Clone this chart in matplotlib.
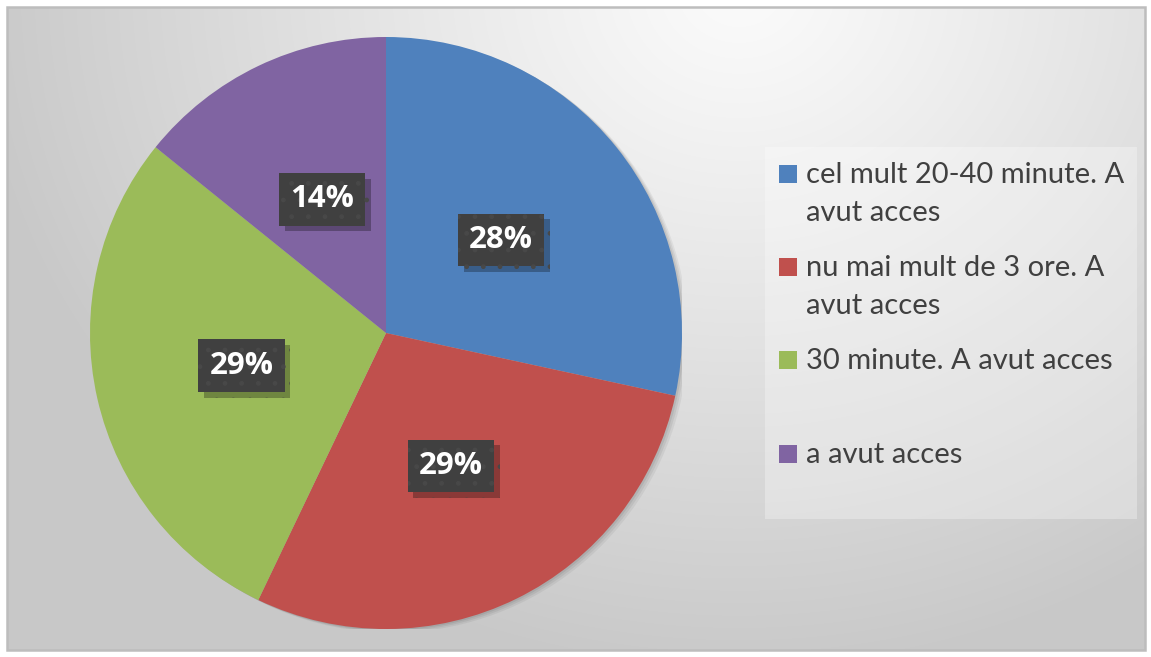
import numpy as np
import matplotlib
matplotlib.use("Agg")
import matplotlib.pyplot as plt
from matplotlib.patches import Rectangle, Circle
import matplotlib.patheffects as pe

categories = ["cel mult 20-40 minute. A\navut acces",
              "nu mai mult de 3 ore. A\navut acces",
              "30 minute. A avut acces",
              "a avut acces"]
values = [28.4, 28.7, 28.7, 14.2]
colors = ["#4f81bd", "#c0504d", "#9bbb59", "#8064a2"]

W, H = 1151, 657
fig = plt.figure(figsize=(W / 100, H / 100), dpi=100)
fig.patch.set_facecolor("white")

# background gradient
bg = fig.add_axes([0, 0, 1, 1])
bg.set_xlim(0, W)
bg.set_ylim(H, 0)
bg.axis("off")
yy, xx = np.mgrid[0:H, 0:W]
d = np.sqrt(((xx - 740) / 1.0) ** 2 + ((yy + 20) / 0.9) ** 2)
g = 0.985 - 0.20 * np.clip(d / 780, 0, 1) ** 1.1
img = np.dstack([g, g, g])
bg.imshow(img, extent=(7, 1145, 650, 7), aspect="auto", zorder=0)
bg.add_patch(Rectangle((7, 7), 1138, 643, fill=False, ec="#bdbdbd", lw=1.8, zorder=2))

# legend box
bg.add_patch(Rectangle((765, 147), 372, 372, fc="white", alpha=0.3, ec="none", zorder=1))

# pie
cx, cy, r = 386, 333, 296
ax = fig.add_axes([(cx - r) / W, (H - cy - r) / H, 2 * r / W, 2 * r / H])
ax.set_facecolor("none")
# soft shadow
for k, a in [(6, 0.05), (4, 0.06), (2, 0.07)]:
    ax.add_patch(Circle((k / r, -k / r * 0.6), 1.0, fc="black", alpha=a, ec="none", zorder=0))
wedges, texts, autotexts = ax.pie(values, colors=colors, startangle=90, counterclock=False,
                                  autopct="%1.0f%%", pctdistance=0.5,
                                  wedgeprops=dict(linewidth=0, zorder=1))
ax.set_xlim(-1, 1)
ax.set_ylim(-1, 1)
ax.set_aspect("equal")
for t in autotexts:
    t.set_fontfamily("Open Sans")
    t.set_fontweight("bold")
    t.set_fontsize(22.5)
    t.set_color("white")
    t.set_zorder(5)
    t.set_bbox(dict(boxstyle="square,pad=0.36", fc="#404040", ec="#484848",
                    lw=0, hatch="."))
    t.get_bbox_patch().set_path_effects([
        pe.SimplePatchShadow(offset=(4, -4), shadow_rgbFace="black", alpha=0.28),
        pe.Normal()])

# legend
entry_base = [183, 276, 369, 463]
line_gap = 38
for lab, c, yb in zip(categories, colors, entry_base):
    bg.add_patch(Rectangle((779, yb - 18), 18, 18, fc=c, ec="none", zorder=3))
    for i, line in enumerate(lab.split("\n")):
        bg.text(806, yb + i * line_gap, line, fontsize=21, fontfamily="Lato",
                color="#404040", va="baseline", ha="left", zorder=3)

fig.savefig("out.png", dpi=100)
